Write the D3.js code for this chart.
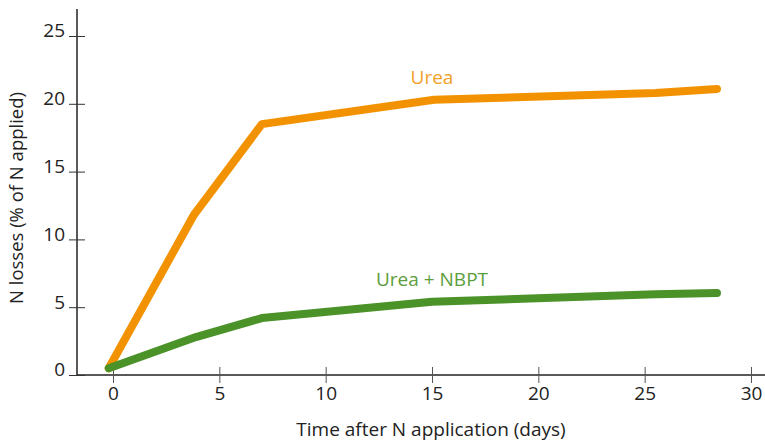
<!DOCTYPE html>
<html>
<head>
<meta charset="utf-8">
<script src="https://cdn.jsdelivr.net/npm/d3@7"></script>
<style>
	body { margin: 0; background: #fff; }
	svg text { font-family: "Open Sans", sans-serif; fill: #222; }
</style>
</head>
<body>
<svg id="viz" width="765" height="443"></svg>
<script>

// data
const ureaDays = [-0.2, 3.8, 7.0, 15.1, 25.5, 28.4];
const ureaLoss = [0.5, 11.8, 18.5, 20.3, 20.8, 21.1];
const nbptDays = [-0.2, 3.9, 7.0, 15.0, 25.5, 28.4];
const nbptLoss = [0.5, 2.8, 4.2, 5.4, 5.95, 6.05];
const xTicks = [0, 5, 10, 15, 20, 25, 30];
const yTicks = [0, 5, 10, 15, 20, 25];

const series = [
	{ name: "Urea", days: ureaDays, loss: ureaLoss, color: "#f39200", label: "#f3a028", lx: 15, ly: 21.45 },
	{ name: "Urea + NBPT", days: nbptDays, loss: nbptLoss, color: "#4b9229", label: "#5c9e3c", lx: 15, ly: 6.55 }
];

let svg = d3.select("svg#viz");

// scales, tuned to the reference frame
let x = d3.scaleLinear().domain([0, 30]).range([113, 751]);
let y = d3.scaleLinear().domain([0, 25]).range([375, 36]);

// axes lines
svg.append("line")
	.attr("x1", 77).attr("x2", 77)
	.attr("y1", 9).attr("y2", 375)
	.attr("stroke", "#222").attr("stroke-width", 1.5);
svg.append("line")
	.attr("x1", 77).attr("x2", 765)
	.attr("y1", 375).attr("y2", 375)
	.attr("stroke", "#222").attr("stroke-width", 1.5);

// y axis ticks
let yAxis = d3.axisLeft(y).tickValues(yTicks).tickSize(8).tickSizeOuter(0);
let yGroup = svg.append("g").attr("transform", "translate(77,0)").call(yAxis);
yGroup.select(".domain").remove();
yGroup.selectAll(".tick line").attr("x2", 8).attr("x1", -8).attr("stroke", "#333");
yGroup.selectAll(".tick text")
	.attr("x", -12).attr("dy", "0.05em")
	.style("font-size", "19px");

// x axis ticks
let xAxis = d3.axisBottom(x).tickValues(xTicks).tickSize(8).tickSizeOuter(0);
let xGroup = svg.append("g").attr("transform", "translate(0,375)").call(xAxis);
xGroup.select(".domain").remove();
xGroup.selectAll(".tick line").attr("y1", -8).attr("y2", 8).attr("stroke", "#555");
xGroup.selectAll(".tick text")
	.attr("y", 12)
	.style("font-size", "19px");

// axis titles
svg.append("text")
	.attr("x", 431).attr("y", 436)
	.attr("text-anchor", "middle")
	.style("font-size", "19px")
	.text("Time after N application (days)");

svg.append("text")
	.attr("transform", "translate(23,198) rotate(-90)")
	.attr("text-anchor", "middle")
	.style("font-size", "18.5px")
	.text("N losses (% of N applied)");

// lines
let line = d3.line()
	.x(d => x(d[0]))
	.y(d => y(d[1]));

series.forEach(function(s) {
	let pts = s.days.map((d, i) => [d, s.loss[i]]);
	svg.append("path")
		.datum(pts)
		.attr("d", line)
		.attr("fill", "none")
		.attr("stroke", s.color)
		.attr("stroke-width", 8)
		.attr("stroke-linecap", "round")
		.attr("stroke-linejoin", "round");

	svg.append("text")
		.attr("x", x(s.lx)).attr("y", y(s.ly))
		.attr("text-anchor", "middle")
		.style("font-size", "19px")
		.style("fill", s.label)
		.text(s.name);
});

</script>
</body>
</html>
